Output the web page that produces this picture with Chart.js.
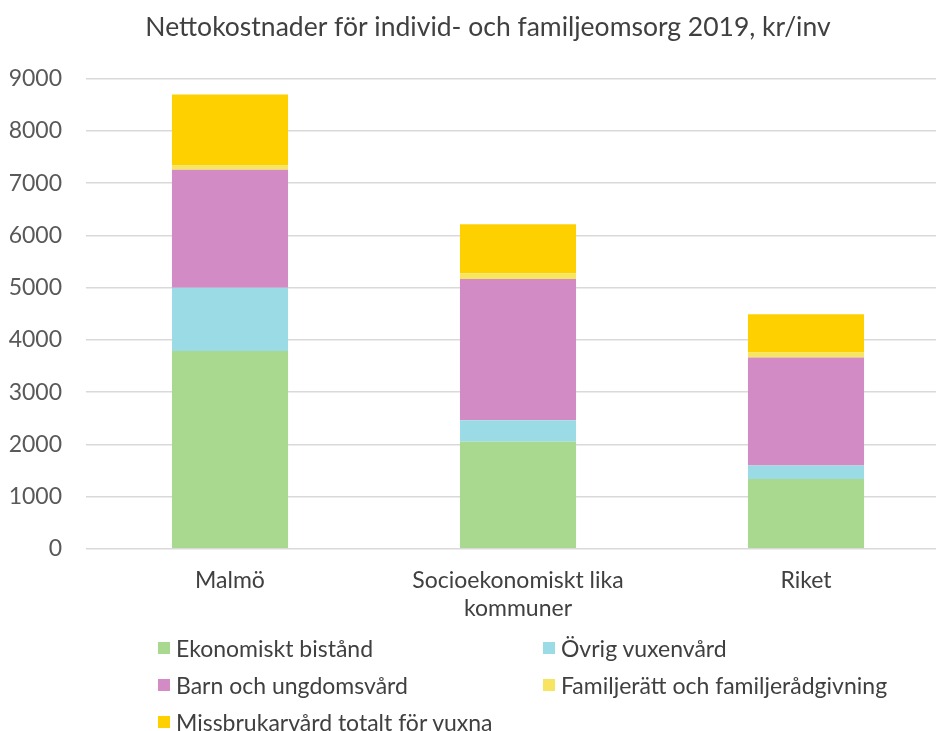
<!DOCTYPE html>
<html>
<head>
<meta charset="utf-8">
<script src="https://cdn.jsdelivr.net/npm/chart.js@4.4.0/dist/chart.umd.min.js"></script>
<style>
html,body{margin:0;padding:0;background:#fff;overflow:hidden;width:936px;height:731px}
#wrap{position:relative;width:960px;height:731px}
#legend{position:absolute;left:158px;top:634px;display:grid;grid-template-columns:385px 385px;row-gap:9px;font-family:Lato,sans-serif;font-size:23px;color:#404040}
#legend .item{display:flex;align-items:center;height:28px}
#legend .box{width:12px;height:12px;margin-right:6px}
</style>
</head>
<body>
<div id="wrap">
<canvas id="chart" width="960" height="731"></canvas>
<div id="legend"></div>
</div>
<script>
const categories=['Malmö',['Socioekonomiskt lika','kommuner'],'Riket'];
const ekonomisktBistand=[3790,2050,1335];
const ovrigVuxenvard=[1210,410,260];
const barnUngdomsvard=[2260,2705,2070];
const familjeratt=[80,110,95];
const missbrukarvard=[1360,940,730];
const yTicks=[0,1000,2000,3000,4000,5000,6000,7000,8000,9000];

const series=[
  {label:'Ekonomiskt bistånd',data:ekonomisktBistand,color:'#a9d98e'},
  {label:'Övrig vuxenvård',data:ovrigVuxenvard,color:'#9bdbe6'},
  {label:'Barn och ungdomsvård',data:barnUngdomsvard,color:'#d38bc6'},
  {label:'Familjerätt och familjerådgivning',data:familjeratt,color:'#f7e561'},
  {label:'Missbrukarvård totalt för vuxna',data:missbrukarvard,color:'#ffd000'}
];

// y labels stick out left of the axis box, widen the clip area
const unclipY={id:'unclipY',afterLayout(c){c.scales.y.left=0;}};

const font='Lato, sans-serif';
const chart=new Chart(document.getElementById('chart'),{
  type:'bar',
  data:{labels:categories,datasets:series.map(s=>({label:s.label,data:s.data,backgroundColor:s.color,borderWidth:0,categoryPercentage:1,barPercentage:0.403}))},
  plugins:[unclipY],
  options:{
    responsive:false,animation:false,
    layout:{padding:{left:26,right:10,top:0,bottom:99}},
    plugins:{
      legend:{display:false},
      tooltip:{enabled:false},
      title:{display:true,text:'Nettokostnader för individ- och familjeomsorg 2019, kr/inv',color:'#404040',font:{family:font,size:26.5,weight:'normal'},padding:{top:12,bottom:35}}
    },
    scales:{
      x:{stacked:true,grid:{display:false},border:{display:false},ticks:{color:'#404040',font:{family:font,size:23},padding:10}},
      y:{stacked:true,min:0,max:9000,afterBuildTicks:a=>{a.ticks=yTicks.map(v=>({value:v}));},
        afterFit:s=>{s.width=60;},
        grid:{color:'#d9d9d9',lineWidth:1.5,drawTicks:false},border:{display:false},
        ticks:{color:'#595959',font:{family:font,size:23},padding:24,callback:v=>String(v)}}
    }
  }
});

// legend from chart datasets
const lg=document.getElementById('legend');
chart.data.datasets.forEach(d=>{
  const it=document.createElement('div');it.className='item';
  it.innerHTML=`<span class="box" style="background:${d.backgroundColor}"></span><span>${d.label}</span>`;
  lg.appendChild(it);
});
</script>
</body>
</html>
